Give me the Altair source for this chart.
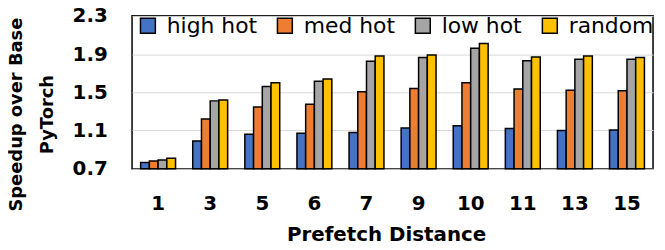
import altair as alt
import pandas as pd

distances = ["1", "3", "5", "6", "7", "9", "10", "11", "13", "15"]
series = ["high hot", "med hot", "low hot", "random"]
high_hot = [0.765, 0.99, 1.06, 1.07, 1.08, 1.125, 1.15, 1.12, 1.10, 1.105]
med_hot = [0.78, 1.22, 1.345, 1.375, 1.505, 1.54, 1.60, 1.535, 1.52, 1.515]
low_hot = [0.79, 1.41, 1.56, 1.615, 1.825, 1.865, 1.96, 1.83, 1.845, 1.845]
random_ = [0.81, 1.42, 1.60, 1.64, 1.88, 1.89, 2.01, 1.87, 1.88, 1.865]
colors = ["#4472C4", "#ED7D31", "#A5A5A5", "#FFC000"]
y_ticks = [0.7, 1.1, 1.5, 1.9, 2.3]

rows = []
for s, vals in zip(series, [high_hot, med_hot, low_hot, random_]):
    for d, v in zip(distances, vals):
        rows.append({"dist": d, "series": s, "value": v})
df = pd.DataFrame(rows)

FONT = "DejaVu Sans"

chart = alt.Chart(df).mark_bar(stroke="black", strokeWidth=1.5).encode(
    x=alt.X("dist:N", sort=distances,
            scale=alt.Scale(paddingInner=0.33, paddingOuter=0.165),
            axis=alt.Axis(title="Prefetch Distance", labelAngle=0, ticks=False,
                          domain=False, labelPadding=25, titlePadding=11,
                          labelFont=FONT, labelFontSize=20, labelFontWeight="bold",
                          labelColor="black", titleFont=FONT, titleFontSize=20,
                          titleFontWeight="bold", titleColor="black",
                          titleX=256)),
    xOffset=alt.XOffset("series:N", sort=series,
                        scale=alt.Scale(paddingInner=0, paddingOuter=0)),
    y=alt.Y("value:Q", scale=alt.Scale(domain=[0.7, 2.3], zero=False, nice=False),
            axis=alt.Axis(title=["Speedup over Base", "PyTorch"], values=y_ticks,
                          format=".1f", ticks=False, domain=False, labelPadding=25,
                          labelFont=FONT, labelFontSize=20, labelFontWeight="bold",
                          labelColor="black", titleFont=FONT, titleFontSize=18,
                          titleFontWeight="bold", titleColor="black",
                          titleLineHeight=31, titleX=-107, titleY=99,
                          titleBaseline="bottom",
                          grid=True, gridColor="#d9d9d9", gridWidth=1)),
    y2=alt.datum(0.7),
    color=alt.Color("series:N", sort=series,
                    scale=alt.Scale(domain=series, range=colors),
                    legend=alt.Legend(title=None, orient="none", direction="horizontal",
                                      legendX=5, legendY=-1, symbolType="square",
                                      symbolSize=225, symbolStrokeColor="black",
                                      symbolStrokeWidth=1.5, symbolOpacity=1,
                                      labelFont=FONT, labelFontSize=22,
                                      labelColor="black", labelOffset=8,
                                      columnPadding=17, padding=0)),
).properties(
    width=525, height=154,
    autosize=alt.AutoSizeParams(type="none"),
    padding={"left": 125, "top": 7, "right": 4, "bottom": 80},
).configure_view(stroke="black", strokeWidth=1.5)

chart.save("out.html", embed_options={"renderer": "svg", "actions": False})
